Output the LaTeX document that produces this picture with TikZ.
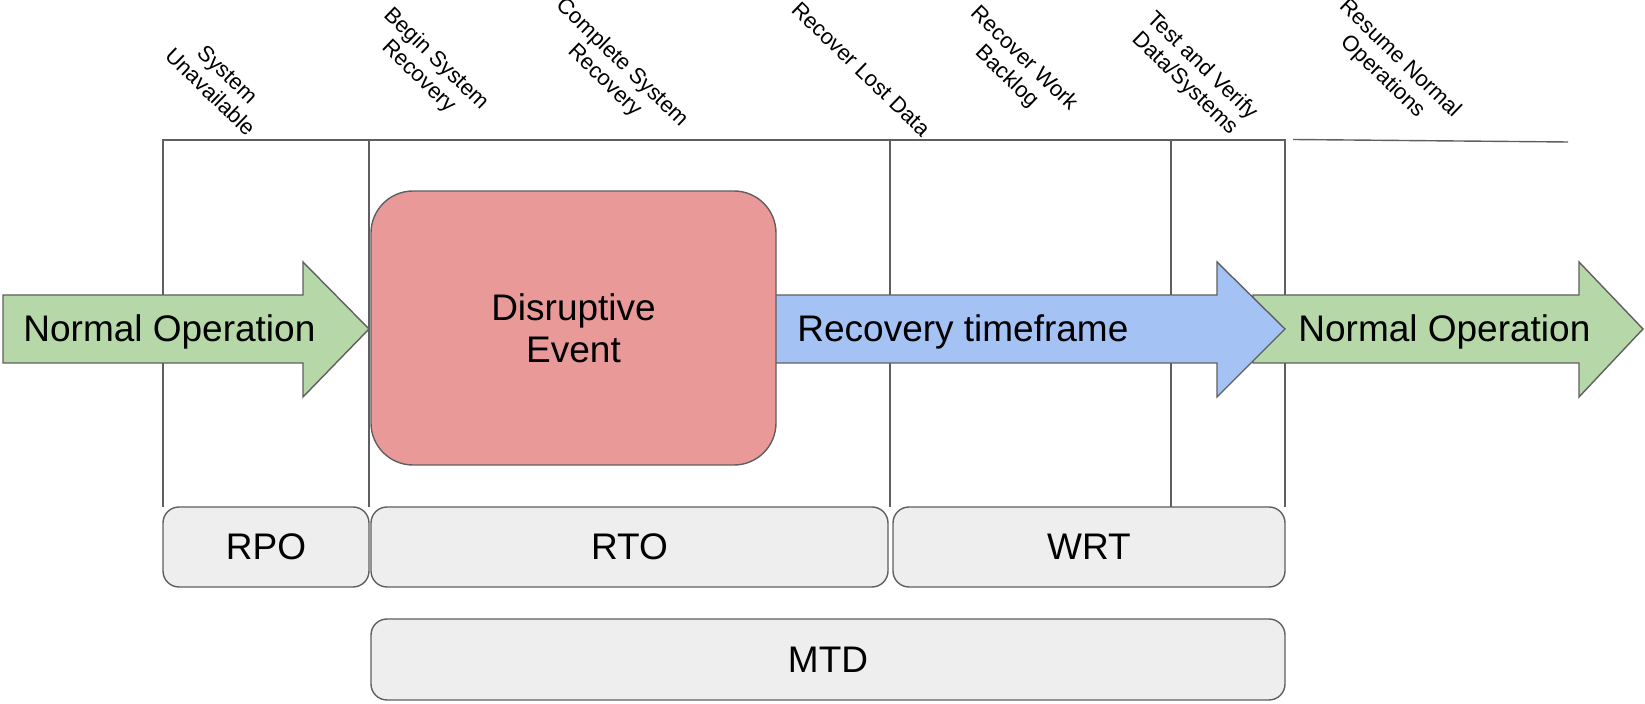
\documentclass[tikz,border=0pt]{standalone}
\usepackage{fontspec}
\setmainfont{Liberation Sans}
\definecolor{opgreen}{HTML}{B6D7A8}
\definecolor{evred}{HTML}{EA9999}
\definecolor{recblue}{HTML}{A4C2F4}
\definecolor{boxgray}{HTML}{EEEEEE}
\definecolor{edgegray}{HTML}{5F5F5F}
\tikzset{
  edgeline/.style={draw=edgegray, line width=0.7pt},
  bigtext/.style={font=\fontsize{18.5}{21}\selectfont, inner sep=0pt},
  steplabel/.style={font=\fontsize{11}{12.4}\selectfont, align=center, rotate=-44, inner sep=0pt},
  metricbox/.style={edgeline, fill=boxgray, rounded corners=8pt, font=\fontsize{18.5}{21}\selectfont},
}

\begin{document}
\begin{tikzpicture}[x=0.5pt,y=-0.5pt]
  \useasboundingbox (0,0) rectangle (1645,704);
     % phase columns
     \draw[edgeline] (163,507) -- (163,140) -- (1285,140) -- (1285,507);
     \foreach \x in {369,890,1171} {
       \draw[edgeline] (\x,140) -- (\x,507);
     }
     \draw[edgeline] (1293,139.5) -- (1568,142);
     % step labels
     \node[steplabel] (unavail) at (219,83) {System\\Unavailable};
     \node[steplabel] (beginrec) at (427,68) {Begin System\\Recovery};
     \node[steplabel] (completerec) at (613,72) {Complete System\\Recovery};
     \node[steplabel] (lostdata) at (861,69) {Recover Lost Data};
     \node[steplabel] (backlog) at (1015,68) {Recover Work\\Backlog};
     \node[steplabel] (verify) at (1193,75) {Test and Verify\\Data/Systems};
     \node[steplabel] (resume) at (1391,68) {Resume Normal\\Operations};
     % arrows
     \draw[edgeline, fill=opgreen] (3,295) -- (303,295) -- (303,262) -- (369,329) -- (303,397) -- (303,363) -- (3,363) -- cycle;
     \draw[edgeline, fill=opgreen] (1253,295) -- (1579,295) -- (1579,262) -- (1643,329) -- (1579,397) -- (1579,363) -- (1253,363) -- cycle;
     \draw[edgeline, fill=recblue] (700,295) -- (1217,295) -- (1217,262) -- (1285,329) -- (1217,397) -- (1217,363) -- (700,363) -- cycle;
     \node[bigtext, anchor=base west] (normalin) at (23,342) {Normal Operation};
     \node[bigtext, anchor=base west] (recovery) at (797,342) {Recovery timeframe};
     \node[bigtext, anchor=base west] (normalout) at (1298,342) {Normal Operation};
     % event
     \node[edgeline, fill=evred, rounded corners=21pt, minimum width=202.5pt, minimum height=137pt,
           bigtext, align=center] (event) at (573.5,328) {Disruptive\\Event};
     % metrics
     \node[metricbox, minimum width=103pt, minimum height=40pt] (rpo) at (266,547) {RPO};
     \node[metricbox, minimum width=258.5pt, minimum height=40pt] (rto) at (629.5,547) {RTO};
     \node[metricbox, minimum width=196pt, minimum height=40pt] (wrt) at (1089,547) {WRT};
     \node[metricbox, minimum width=457pt, minimum height=40.5pt] (mtd) at (828,659.5) {MTD};
\end{tikzpicture}
\end{document}
